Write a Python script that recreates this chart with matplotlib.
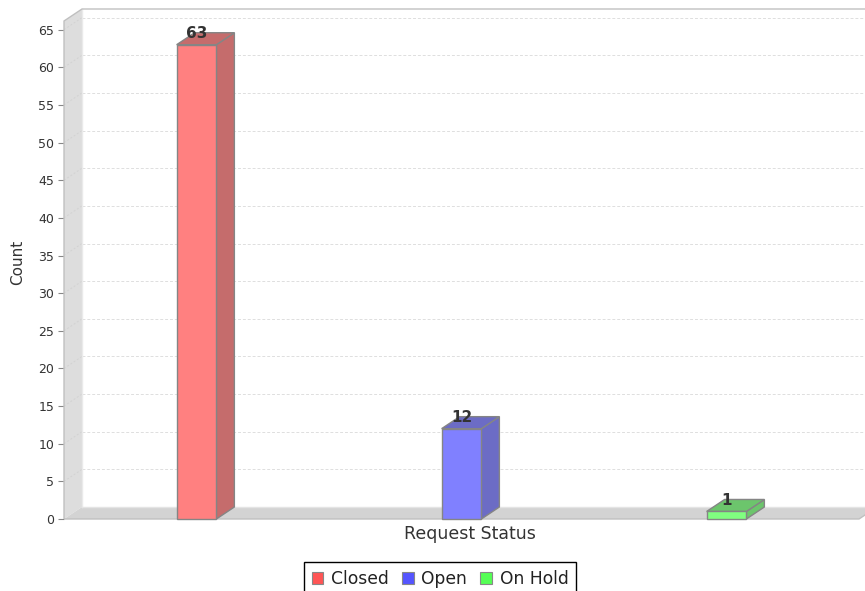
import matplotlib
matplotlib.use("Agg")
import matplotlib.pyplot as plt
from matplotlib.patches import Polygon, Patch

# chart data
statuses = ["Closed", "Open", "On Hold"]
counts = [63, 12, 1]
base_colors = ["#ff5555", "#5555ff", "#55ff55"]
front_colors = ["#ff8080", "#8080ff", "#80ff80"]
side_colors = ["#c56c6c", "#6c6cc5", "#6cc56c"]
y_ticks = list(range(0, 70, 5))

W, H = 865, 591
fig = plt.figure(figsize=(W / 100, H / 100), dpi=100)

# front face of the 3D plot, in pixels
left, right, top, bottom = 64, 859, 21, 519
ax = fig.add_axes([left / W, (H - bottom) / H, (right - left) / W, (bottom - top) / H])
ymax = max(counts) * 1.05
xmin, xmax = -0.5, len(statuses) - 0.5
ax.set_xlim(xmin, xmax)
ax.set_ylim(0, ymax)

# 3D depth offset converted to data units
depth_px_x, depth_px_y = 18, 12
dx = depth_px_x * (xmax - xmin) / (right - left)
dy = depth_px_y * ymax / (bottom - top)

# back wall
ax.add_patch(Polygon([(xmin + dx, dy), (xmax + dx, dy), (xmax + dx, ymax + dy), (xmin + dx, ymax + dy)],
                     closed=True, facecolor="white", edgecolor="none", zorder=0, clip_on=False))

# gridlines on back wall and left wall
for t in y_ticks[1:]:
    ax.plot([xmin + dx, xmax + dx], [t + dy, t + dy], color="#dedede", lw=0.7,
            dashes=(3, 2), zorder=1, clip_on=False)

# left wall
ax.add_patch(Polygon([(xmin, 0), (xmin, ymax), (xmin + dx, ymax + dy), (xmin + dx, dy)],
                     closed=True, facecolor="#dddddd", edgecolor="none", zorder=2, clip_on=False))
for t in y_ticks[1:]:
    ax.plot([xmin, xmin + dx], [t, t + dy], color="#d2d2d2", lw=0.7, dashes=(2, 2),
            zorder=2.1, clip_on=False)
ax.plot([xmin + dx, xmin + dx], [dy, ymax + dy], color="#eaeaea", lw=1, zorder=2.2, clip_on=False)

# floor
ax.add_patch(Polygon([(xmin, 0), (xmax, 0), (xmax + dx, dy), (xmin + dx, dy)],
                     closed=True, facecolor="#d3d3d3", edgecolor="none", zorder=2, clip_on=False))
ax.plot([xmin + dx, xmax + dx], [dy, dy], color="#e4e4e4", lw=1, zorder=2.2, clip_on=False)

# outline of the plot
ax.add_patch(Polygon([(xmin, 0), (xmin, ymax), (xmin + dx, ymax + dy), (xmax + dx, ymax + dy),
                      (xmax + dx, dy), (xmax, 0)],
                     closed=True, facecolor="none", edgecolor="#c0c0c0", lw=1, zorder=2.5, clip_on=False))

# bars
bar_w = 0.15
for i, (v, fc, sc) in enumerate(zip(counts, front_colors, side_colors)):
    x0, x1 = i - bar_w / 2, i + bar_w / 2
    ec = "#858585"
    ax.add_patch(Polygon([(x1, 0), (x1 + dx, dy), (x1 + dx, v + dy), (x1, v)],
                         closed=True, facecolor=sc, edgecolor=ec, lw=1, zorder=3, clip_on=False))
    ax.add_patch(Polygon([(x0, v), (x1, v), (x1 + dx, v + dy), (x0 + dx, v + dy)],
                         closed=True, facecolor=sc, edgecolor=ec, lw=1, zorder=3, clip_on=False))
    ax.add_patch(Polygon([(x0, 0), (x1, 0), (x1, v), (x0, v)],
                         closed=True, facecolor=fc, edgecolor=ec, lw=1, zorder=3.1, clip_on=False))
    ax.annotate(str(v), (i, v), xytext=(0, 5), textcoords="offset points", ha="center",
                va="baseline", fontsize=11, fontweight="bold", color="#333333", zorder=5)

# axes styling
for s in ax.spines.values():
    s.set_visible(False)
ax.patch.set_visible(False)
ax.set_xticks([])
ax.set_yticks(y_ticks)
ax.tick_params(axis="y", length=4, width=0.8, color="#888888", labelsize=9,
               labelcolor="#333333", pad=3)

fig.text(470 / W, 1 - 534 / H, "Request Status", ha="center", va="center", fontsize=12.5, color="#333333")
fig.text(18 / W, 1 - 262 / H, "Count", ha="center", va="center", rotation=90, fontsize=11, color="#333333")

handles = [Patch(facecolor=c, edgecolor="#888888", lw=0.8) for c in base_colors]
leg = fig.legend(handles, statuses, loc="upper center", bbox_to_anchor=(440 / W, 1 - 562 / H),
                 ncol=3, fontsize=12.3, frameon=True, fancybox=False, framealpha=1,
                 handlelength=0.7, handleheight=0.7, handletextpad=0.45, columnspacing=0.75,
                 borderpad=0.45, borderaxespad=0)
leg.get_frame().set_edgecolor("black")
leg.get_frame().set_linewidth(1)
for t in leg.get_texts():
    t.set_color("#222222")

fig.savefig("out.png", dpi=100)
